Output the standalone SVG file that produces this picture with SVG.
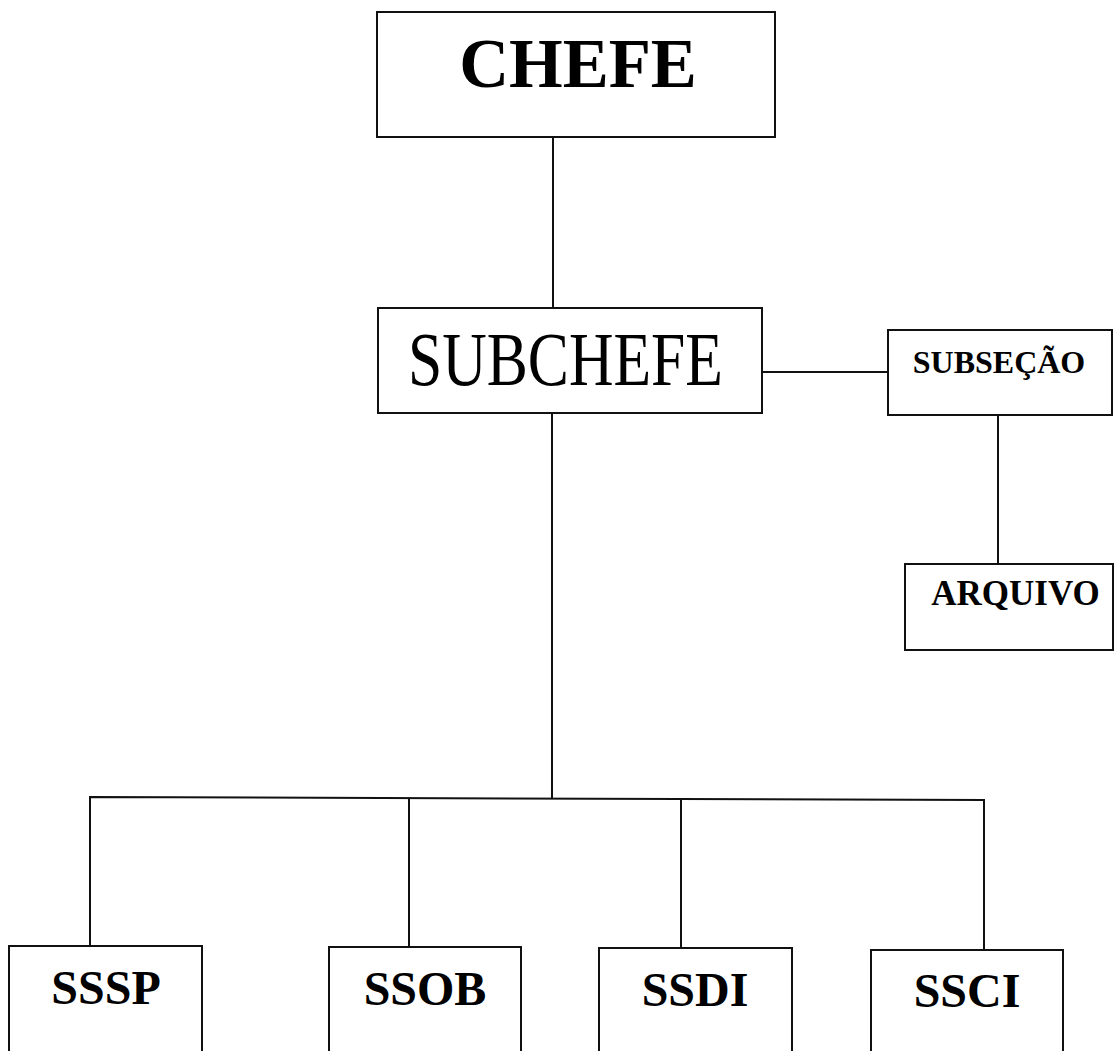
<svg xmlns="http://www.w3.org/2000/svg" width="1120" height="1051" viewBox="0 0 1120 1051">
<style>
.box{fill:#fff;stroke:#111;stroke-width:2}
.ln{fill:none;stroke:#111;stroke-width:2}
.t{font-family:"Liberation Serif","Times New Roman",serif;fill:#000;text-anchor:middle}
.b{font-weight:bold}
</style>
<rect width="1120" height="1051" fill="#fff"/>
<g id="connectors">
<line class="ln" x1="553" y1="137" x2="553" y2="308"/>
<line class="ln" x1="762" y1="372" x2="888" y2="372"/>
<line class="ln" x1="998" y1="415" x2="998" y2="564"/>
<line class="ln" x1="552" y1="413" x2="552" y2="798"/>
<polyline class="ln" points="90,946 90,797 984,800 984,950"/>
<line class="ln" x1="409" y1="798" x2="409" y2="947"/>
<line class="ln" x1="681" y1="799" x2="681" y2="948"/>
</g>
<g id="chefe">
<rect class="box" x="377" y="12" width="398" height="125"/>
<text class="t b" x="578" y="87" font-size="69">CHEFE</text>
</g>
<g id="subchefe">
<rect class="box" x="378" y="308" width="384" height="105"/>
<text class="t" x="565.5" y="385" font-size="76" textLength="315" lengthAdjust="spacingAndGlyphs">SUBCHEFE</text>
</g>
<g id="subsecao">
<rect class="box" x="888" y="330" width="224" height="85"/>
<text class="t b" x="999" y="373" font-size="32">SUBSEÇÃO</text>
</g>
<g id="arquivo">
<rect class="box" x="905" y="564" width="208" height="86"/>
<text class="t b" x="1015.5" y="605" font-size="35">ARQUIVO</text>
</g>
<g id="sssp">
<rect class="box" x="9" y="946" width="193" height="120"/>
<text class="t b" x="106" y="1004" font-size="48">SSSP</text>
</g>
<g id="ssob">
<rect class="box" x="329" y="947" width="192" height="120"/>
<text class="t b" x="425" y="1005" font-size="48">SSOB</text>
</g>
<g id="ssdi">
<rect class="box" x="599" y="948" width="193" height="120"/>
<text class="t b" x="695" y="1006" font-size="48">SSDI</text>
</g>
<g id="ssci">
<rect class="box" x="871" y="950" width="192" height="120"/>
<text class="t b" x="967" y="1007" font-size="48">SSCI</text>
</g>
</svg>
